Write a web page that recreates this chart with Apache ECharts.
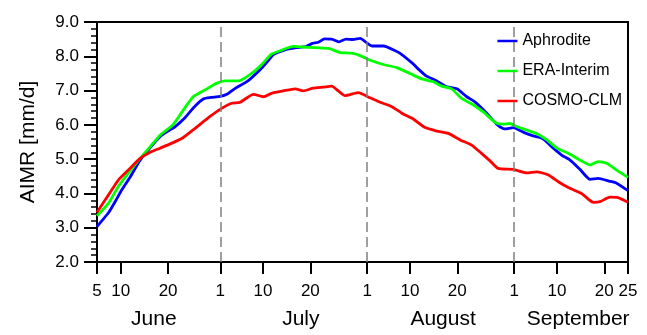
<!DOCTYPE html>
<html>
<head>
<meta charset="utf-8">
<script src="https://cdn.jsdelivr.net/npm/echarts@6/dist/echarts.min.js"></script>
<style>
    html, body { margin: 0; padding: 0; background: #fff; }
    #chart { width: 647px; height: 335px; }
</style>
</head>
<body>
<div id="chart"></div>
<script>
    // day index: 1 June = 1, 1 July = 31, 1 Aug = 62, 1 Sep = 93
    var tickDays = [5, 10, 20, 31, 40, 50, 62, 71, 81, 93, 102, 112, 117];
    var tickLabels = ['5', '10', '20', '1', '10', '20', '1', '10', '20', '1', '10', '20', '25'];
    var monthDays = [17, 48, 78, 106.5];
    var monthNames = ['June', 'July', 'August', 'September'];
    var monthStarts = [31, 62, 93];

    var aphrodite = [[5,3.03],[6,3.2],[7.5,3.45],[9,3.8],[10,4.05],[12,4.48],[14,4.95],[16,5.3],[18.5,5.68],[20,5.82],
        [21.5,5.95],[23.5,6.2],[25.5,6.52],[27.5,6.76],[29,6.8],[31,6.83],[32.5,6.9],[34,7.05],[37,7.3],[39.5,7.62],
        [41,7.85],[42.2,8.05],[44.5,8.18],[47,8.25],[49,8.28],[50.3,8.37],[51.7,8.41],[53,8.51],[54.5,8.5],[56,8.42],
        [57.5,8.5],[59,8.49],[60.5,8.52],[62,8.38],[63,8.3],[65.5,8.3],[67,8.22],[69,8.08],[71.5,7.8],[73,7.6],
        [74.5,7.42],[76.3,7.31],[78.8,7.11],[80.9,7.05],[83,6.82],[84.7,6.67],[87.2,6.34],[89.3,6.02],[91,5.88],[92.8,5.92],
        [95,5.78],[97,5.68],[99,5.6],[101,5.35],[103,5.12],[104.8,4.97],[107,4.68],[109,4.41],[110.7,4.44],[113,4.36],
        [114.6,4.3],[117,4.08]];

    var eraInterim = [[5,3.35],[7.4,3.71],[9.5,4.2],[11.6,4.59],[14.1,5.02],[16.2,5.36],[18.3,5.7],[21,6.0],[23.2,6.43],[25.3,6.82],
        [27.8,7.02],[30.2,7.21],[32,7.28],[34.8,7.28],[37.6,7.5],[39.7,7.75],[41.8,8.06],[44,8.18],[46.4,8.29],[49.6,8.26],
        [53.8,8.23],[56.3,8.11],[58.7,8.09],[60.5,8.02],[62.5,7.89],[65.4,7.76],[68.2,7.67],[71,7.5],[73.5,7.34],[75.9,7.26],
        [77.7,7.13],[79.8,7.05],[81.9,6.77],[84.4,6.58],[86.8,6.34],[89,6.07],[90.7,6.02],[92.1,6.04],[93.5,5.95],[95.6,5.85],
        [97.7,5.75],[99.9,5.56],[102,5.32],[104.4,5.17],[106.9,4.97],[109,4.83],[110.7,4.93],[112.5,4.88],[114.6,4.68],[117,4.47]];

    var cosmoClm = [[5,3.45],[7.4,3.95],[9.5,4.39],[11.6,4.68],[14.1,5.02],[16.2,5.2],[18.3,5.32],[20.7,5.46],[23.2,5.63],[25.7,5.9],
        [28.5,6.21],[31.3,6.48],[33.4,6.63],[35.2,6.66],[38,6.89],[40.1,6.82],[41.8,6.92],[44.3,6.99],[46.8,7.05],[48.5,6.99],
        [50.6,7.07],[52.7,7.1],[54.5,7.13],[55.9,6.99],[57.3,6.85],[60.1,6.94],[62.6,6.79],[64.7,6.66],[67.2,6.53],[69.3,6.34],
        [71.7,6.17],[74.2,5.92],[76.7,5.82],[79.1,5.75],[81.6,5.56],[84,5.41],[86.1,5.17],[87.9,4.95],[89.6,4.73],[92.8,4.7],
        [95.6,4.6],[97.7,4.63],[100.2,4.54],[102.3,4.34],[104.4,4.17],[107.2,4.0],[109.7,3.74],[111.1,3.76],[113.2,3.89],[114.9,3.88],
        [117,3.74]];

    var font = "'Liberation Sans', Arial, Helvetica, sans-serif";

    var chart = echarts.init(document.getElementById('chart'));

    option = {
        animation: false,
        textStyle: { fontFamily: font, color: '#000' },
        grid: {
            left: 97, right: 19, top: 22, bottom: 73,
            show: true, borderColor: '#000', borderWidth: 2
        },
        legend: {
            orient: 'vertical',
            right: 21,
            top: 24,
            padding: [8, 4, 6, 1],
            backgroundColor: '#fff',
            icon: 'rect',
            itemWidth: 20,
            itemHeight: 2.5,
            itemGap: 12,
            textStyle: { fontSize: 16, color: '#000', fontFamily: font, lineHeight: 18 },
            data: ['Aphrodite', 'ERA-Interim', 'COSMO-CLM']
        },
        xAxis: [
            {
                type: 'value',
                min: 5,
                max: 117,
                axisLine: { show: true, lineStyle: { color: '#000', width: 2 } },
                axisTick: { show: true, length: 12, customValues: tickDays, lineStyle: { color: '#000', width: 2 } },
                axisLabel: {
                    customValues: tickDays,
                    margin: 21,
                    fontSize: 17,
                    color: '#000',
                    fontFamily: font,
                    formatter: function (v) {
                        var i = tickDays.indexOf(v);
                        return i >= 0 ? tickLabels[i] : '';
                    }
                },
                splitLine: { show: false }
            },
            {
                type: 'value',
                position: 'bottom',
                min: 5,
                max: 117,
                axisLine: { show: false },
                axisTick: { show: false },
                axisLabel: {
                    customValues: monthDays,
                    margin: 47,
                    fontSize: 21,
                    color: '#000',
                    fontFamily: font,
                    formatter: function (v) {
                        var i = monthDays.indexOf(v);
                        return i >= 0 ? monthNames[i] : '';
                    }
                },
                splitLine: { show: false }
            }
        ],
        yAxis: {
            type: 'value',
            min: 2,
            max: 9,
            interval: 1,
            name: 'AIMR [mm/d]',
            nameLocation: 'middle',
            nameGap: 58,
            nameTextStyle: { fontSize: 21, color: '#000', fontFamily: font },
            axisLine: { show: true, lineStyle: { color: '#000', width: 2 } },
            axisTick: { show: true, length: 13, lineStyle: { color: '#000', width: 2 } },
            minorTick: { show: true, splitNumber: 5, length: 6, lineStyle: { color: '#000', width: 1.5 } },
            axisLabel: {
                margin: 18,
                fontSize: 17,
                color: '#000',
                fontFamily: font,
                formatter: function (v) { return v.toFixed(1); }
            },
            splitLine: { show: false }
        },
        series: [
            {
                name: 'Aphrodite',
                type: 'line',
                data: aphrodite,
                symbol: 'none',
                smooth: 0.2,
                lineStyle: { color: '#0000ff', width: 2.8 },
                itemStyle: { color: '#0000ff' },
                markLine: {
                    silent: true,
                    symbol: 'none',
                    label: { show: false },
                    lineStyle: { color: '#808080', type: [10, 5], width: 1.5 },
                    data: monthStarts.map(function (d) { return { xAxis: d }; })
                }
            },
            {
                name: 'ERA-Interim',
                type: 'line',
                data: eraInterim,
                symbol: 'none',
                smooth: 0.2,
                lineStyle: { color: '#00ff00', width: 2.8 },
                itemStyle: { color: '#00ff00' }
            },
            {
                name: 'COSMO-CLM',
                type: 'line',
                data: cosmoClm,
                symbol: 'none',
                smooth: 0.2,
                lineStyle: { color: '#ff0000', width: 2.8 },
                itemStyle: { color: '#ff0000' }
            }
        ]
    };

    chart.setOption(option);
</script>
</body>
</html>
